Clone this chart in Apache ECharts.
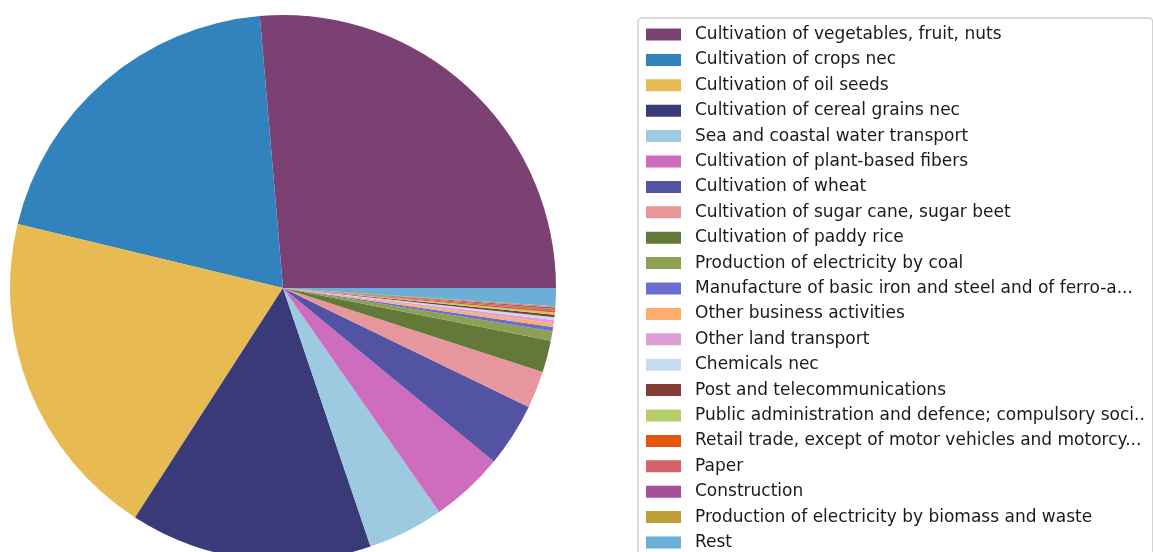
<!DOCTYPE html>
<html>
<head>
<meta charset="utf-8">
<script src="https://cdn.jsdelivr.net/npm/echarts@6/dist/echarts.min.js"></script>
<style>
  html, body { margin: 0; padding: 0; background: #fff; }
  #chart { width: 1153px; height: 552px; }
</style>
</head>
<body>
<div id="chart"></div>
<script>
// Sectors, in drawing order (counter-clockwise from 3 o'clock)
const sectors = [
    'Cultivation of vegetables, fruit, nuts',
    'Cultivation of crops nec',
    'Cultivation of oil seeds',
    'Cultivation of cereal grains nec',
    'Sea and coastal water transport',
    'Cultivation of plant-based fibers',
    'Cultivation of wheat',
    'Cultivation of sugar cane, sugar beet',
    'Cultivation of paddy rice',
    'Production of electricity by coal',
    'Manufacture of basic iron and steel and of ferro-a...',
    'Other business activities',
    'Other land transport',
    'Chemicals nec',
    'Post and telecommunications',
    'Public administration and defence; compulsory soci..',
    'Retail trade, except of motor vehicles and motorcy...',
    'Paper',
    'Construction',
    'Production of electricity by biomass and waste',
    'Rest'
];

// Share of total (%)
const shares = [
    26.35, 19.88, 19.64, 14.31, 4.50, 4.35, 3.78, 2.19, 1.89, 0.56,
    0.25, 0.22, 0.19, 0.17, 0.14, 0.125, 0.11, 0.10, 0.083, 0.083, 1.06
];

const colors = [
    '#7b4173', '#3182bd', '#e7ba52', '#393b79', '#9ecae1', '#ce6dbd', '#5254a3',
    '#e7969c', '#637939', '#8ca252', '#6b6ecf', '#fdae6b', '#de9ed6', '#c6dbef',
    '#843c39', '#b5cf6b', '#e6550d', '#d6616b', '#a55194', '#bd9e39', '#6baed6'
];

document.addEventListener('DOMContentLoaded', function() {
    const chart = echarts.init(document.getElementById('chart'), null, { renderer: 'canvas' });

    const option = {
        animation: false,
        color: colors,
        legend: {
            type: 'plain',
            orient: 'vertical',
            left: 638,
            top: 18,
            height: 1000,
            padding: [8, 8, 8, 8],
            icon: 'rect',
            itemWidth: 35,
            itemHeight: 12,
            itemGap: 8.4,
            borderColor: '#d0d0d0',
            borderWidth: 1.5,
            borderRadius: 4,
            selectedMode: false,
            textStyle: {
                fontFamily: 'DejaVu Sans',
                fontSize: 17,
                lineHeight: 16,
                color: '#1a1a1a',
                padding: [0, 0, 0, 9]
            },
            data: sectors
        },
        series: [
            {
                type: 'pie',
                center: [283, 288],
                radius: 273,
                startAngle: 0,
                clockwise: false,
                label: { show: false },
                labelLine: { show: false },
                emphasis: { disabled: true },
                itemStyle: { borderWidth: 0 },
                data: sectors.map((name, i) => ({ name: name, value: shares[i] }))
            }
        ]
    };
    chart.setOption(option);
});
</script>
</body>
</html>
